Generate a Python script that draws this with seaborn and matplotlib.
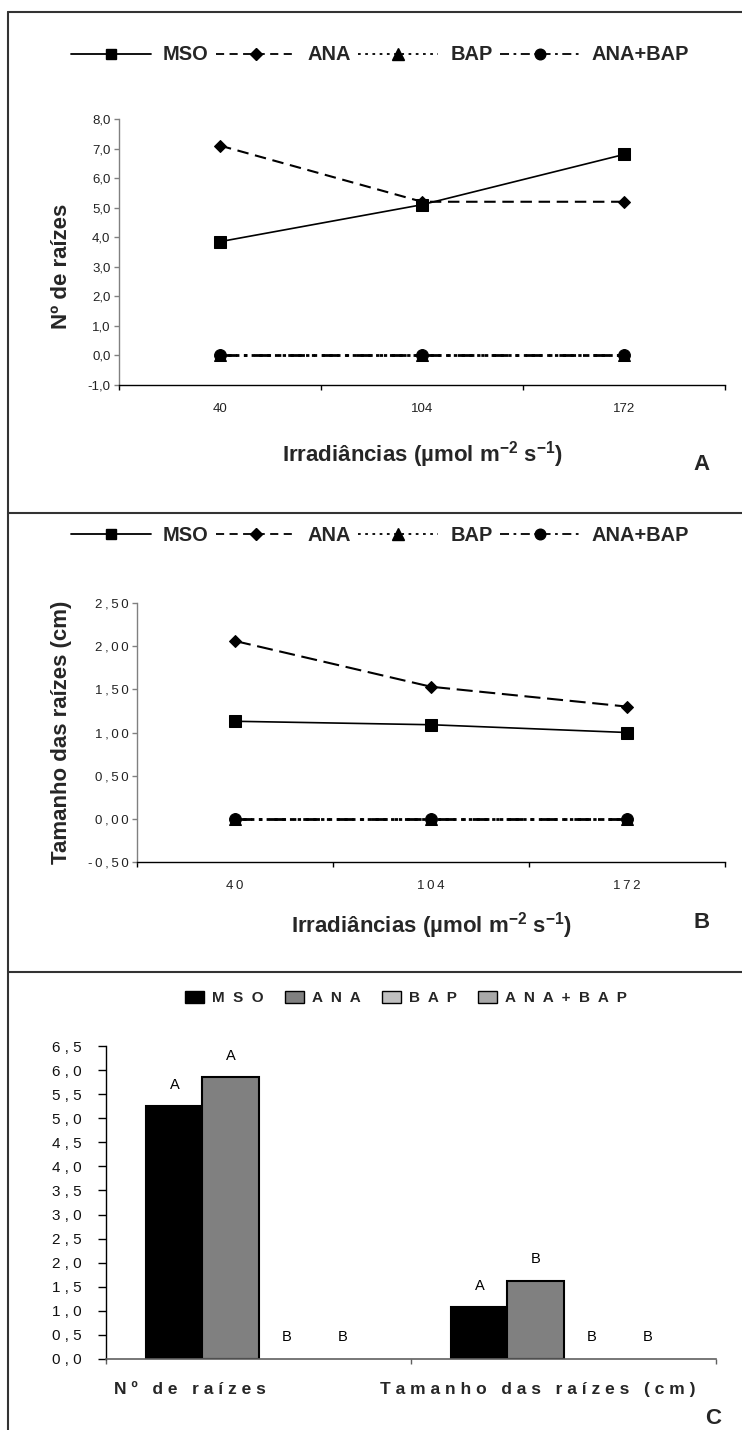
import matplotlib
matplotlib.use("Agg")
import matplotlib.pyplot as plt
from matplotlib.lines import Line2D
from matplotlib.patches import Patch
import seaborn as sns
import pandas as pd

# ---- data ----
irradiances = ["40", "104", "172"]
treatments = ["MSO", "ANA", "BAP", "ANA+BAP"]

roots_mso = [3.85, 5.1, 6.8]
roots_ana = [7.1, 5.2, 5.2]
roots_bap = [0.0, 0.0, 0.0]
roots_anabap = [0.0, 0.0, 0.0]

length_mso = [1.13, 1.09, 1.00]
length_ana = [2.06, 1.53, 1.30]
length_bap = [0.0, 0.0, 0.0]
length_anabap = [0.0, 0.0, 0.0]

bar_groups = ["Nº de raízes", "Tamanho das raízes (cm)"]
bar_mso = [5.25, 1.07]
bar_ana = [5.85, 1.63]
bar_bap = [0.0, 0.0]
bar_anabap = [0.0, 0.0]
letters_mso = ["A", "A"]
letters_ana = ["A", "B"]
letters_bap = ["B", "B"]
letters_anabap = ["B", "B"]

ticks_a = [-1, 0, 1, 2, 3, 4, 5, 6, 7, 8]
ticklabels_a = ["-1,0", "0,0", "1,0", "2,0", "3,0", "4,0", "5,0", "6,0", "7,0", "8,0"]
ticks_b = [-0.5, 0.0, 0.5, 1.0, 1.5, 2.0, 2.5]
ticklabels_b = ["-0,50", "0,00", "0,50", "1,00", "1,50", "2,00", "2,50"]
ticks_c = [0.0, 0.5, 1.0, 1.5, 2.0, 2.5, 3.0, 3.5, 4.0, 4.5, 5.0, 5.5, 6.0, 6.5]
ticklabels_c = ["0,0", "0,5", "1,0", "1,5", "2,0", "2,5", "3,0", "3,5",
                "4,0", "4,5", "5,0", "5,5", "6,0", "6,5"]

# ---- style ----
sns.set_style("white")
plt.rcParams["font.family"] = ["Liberation Sans", "DejaVu Sans"]
plt.rcParams["mathtext.fontset"] = "custom"
plt.rcParams["mathtext.rm"] = "Liberation Sans:bold"
plt.rcParams["mathtext.bf"] = "Liberation Sans:bold"
plt.rcParams["mathtext.default"] = "bf"

W, H = 742, 1430
fig = plt.figure(figsize=(W / 100, H / 100), dpi=100)

THIN = "\u2009"


def box(left, top, right, bottom):
    return [left / W, 1 - bottom / H, (right - left) / W, (bottom - top) / H]


def spaced(text, sep=" "):
    return sep.join(text)


series_style = {
    "MSO": dict(marker="s", markersize=8, linestyle="-", lw=1.2),
    "ANA": dict(marker="D", markersize=6.5, linestyle=(0, (5.5, 3.2)), lw=1.5),
    "BAP": dict(marker="^", markersize=9, linestyle=(0, (1.2, 1.6)), lw=2.0),
    "ANA+BAP": dict(marker="o", markersize=8.5, linestyle=(0, (6, 2.5, 1.2, 2.5)), lw=2.0),
}
legend_dash = {
    "MSO": "-",
    "ANA": (0, (4.5, 3.0)),
    "BAP": (0, (1.5, 2.5)),
    "ANA+BAP": (0, (5, 2.5, 1.5, 2.5)),
}

XLABEL = "Irradiâncias (µmol m$^{-2}$ s$^{-1}$)"


def line_panel(ax, series, ticks, ticklabels, ylim, ylabel, ylabel_x, ylabel_y, xlabel_y,
               xticklabels, dash_scale=1.0):
    for name, values in zip(treatments, series):
        st = series_style[name]
        ls = st["linestyle"]
        if name == "ANA":
            ls = (0, (ls[1][0] * dash_scale, ls[1][1]))
        sns.lineplot(x=irradiances, y=values, ax=ax, color="black",
                     marker=st["marker"], markersize=st["markersize"],
                     markeredgecolor="black", markerfacecolor="black",
                     linestyle=ls, linewidth=st["lw"], sort=False)
    ax.set_xlim(-0.5, 2.5)
    ax.set_ylim(*ylim)
    ax.set_yticks(ticks, ticklabels)
    ax.set_xticks(range(len(irradiances)), xticklabels)
    ax.set_xticks([-0.5, 0.5, 1.5, 2.5], minor=True)
    for s in ("top", "right"):
        ax.spines[s].set_visible(False)
    ax.spines["left"].set_color("#808080")
    ax.spines["left"].set_linewidth(1.0)
    ax.spines["bottom"].set_color("black")
    ax.spines["bottom"].set_linewidth(1.0)
    ax.tick_params(axis="y", which="major", direction="out", length=3.6, width=1,
                   color="#808080", pad=2.5, labelsize=9.5, labelcolor="#222222", left=True)
    ax.tick_params(axis="x", which="major", length=0, pad=13, labelsize=9.5,
                   labelcolor="#222222", bottom=True)
    ax.tick_params(axis="x", which="minor", direction="out", length=3.5, width=1,
                   color="black", bottom=True)
    ax.set_ylabel(ylabel, fontsize=16, fontweight="bold")
    ax.yaxis.set_label_coords(ylabel_x, ylabel_y)
    ax.set_xlabel(XLABEL, fontsize=16, fontweight="bold")
    ax.xaxis.set_label_coords(0.5, xlabel_y)
    ax.grid(False)


# ---- panel A ----
axA = fig.add_axes(box(119, 119, 725, 385))
line_panel(axA, [roots_mso, roots_ana, roots_bap, roots_anabap], ticks_a, ticklabels_a,
           (-1, 8), "Nº de raízes", -0.078, 0.447, -0.205, irradiances)

# ---- panel B ----
axB = fig.add_axes(box(137, 603, 725, 862))
line_panel(axB, [length_mso, length_ana, length_bap, length_anabap], ticks_b,
           [spaced(t, THIN) for t in ticklabels_b],
           (-0.5, 2.5), "Tamanho das raízes (cm)", -0.11, 0.5, -0.185,
           [spaced(t, THIN) for t in irradiances], dash_scale=1.4)

# legends for line panels
line_handles = [Line2D([], [], color="black", marker=series_style[n]["marker"],
                       markersize=series_style[n]["markersize"] * 0.9,
                       linestyle=legend_dash[n], linewidth=1.3)
                for n in treatments]
for ycen in (55, 535):
    fig.legend(line_handles, treatments, loc="center", bbox_to_anchor=(380 / W, 1 - ycen / H),
               ncol=4, frameon=False, numpoints=1, handlelength=4.0, handletextpad=0.6,
               columnspacing=0.35, prop=dict(size=14.4, weight="bold"))

# ---- panel C ----
axC = fig.add_axes(box(106, 1046, 716, 1359))
df = pd.DataFrame({
    "grupo": bar_groups * 4,
    "trat": [t for t in treatments for _ in bar_groups],
    "valor": bar_mso + bar_ana + bar_bap + bar_anabap,
})
bar_colors = ["black", "#808080", "#c0c0c0", "#a8a8a8"]
sns.barplot(data=df, x="grupo", y="valor", hue="trat", hue_order=treatments,
            order=bar_groups, palette=bar_colors, width=0.735, edgecolor="black",
            linewidth=1.5, saturation=1, ax=axC, legend=False, errorbar=None)
for patch in axC.patches:
    if patch.get_height() == 0:
        patch.set_linewidth(0)
for cont, labels in zip(axC.containers, [letters_mso, letters_ana, letters_bap, letters_anabap]):
    axC.bar_label(cont, labels=labels, padding=10.5, fontsize=10.5, color="black")

axC.set_xlim(-0.5, 1.5)
axC.set_ylim(0, 6.5)
axC.set_yticks(ticks_c, [spaced(t) for t in ticklabels_c])
axC.set_xticks([0, 1], ["", ""])
axC.set_xticks([-0.5, 0.5, 1.5], minor=True)
for s in ("top", "right"):
    axC.spines[s].set_visible(False)
axC.spines["left"].set_color("black")
axC.spines["bottom"].set_color("#606060")
axC.spines["left"].set_linewidth(1.0)
axC.spines["bottom"].set_linewidth(1.2)
axC.tick_params(axis="y", direction="out", length=5.8, width=1, color="black", pad=12,
                labelsize=11, labelcolor="#111111", left=True)
axC.tick_params(axis="x", which="major", length=0)
axC.tick_params(axis="x", which="minor", direction="out", length=3.5, width=1,
                color="#606060", bottom=True)
axC.set_xlabel("")
axC.set_ylabel("")
axC.grid(False)

group_label_x = [-0.225, 0.916]
for gx, lab in zip(group_label_x, bar_groups):
    axC.text(gx, -0.099, spaced(lab), transform=axC.get_xaxis_transform(),
             ha="center", va="center", fontsize=12.5, fontweight="bold")

bar_handles = [Patch(facecolor=c, edgecolor="black", linewidth=1.0) for c in bar_colors]
fig.legend(bar_handles, [spaced(t, "  ") for t in treatments], loc="center",
           bbox_to_anchor=(406 / W, 1 - 998 / H), ncol=4, frameon=False,
           handlelength=1.25, handleheight=0.85, handletextpad=0.5, columnspacing=1.4,
           prop=dict(size=11, weight="bold"))

# ---- panel letters ----
fig.text(702 / W, 1 - 465 / H, "A", ha="center", va="center", fontsize=16, fontweight="bold")
fig.text(702 / W, 1 - 923 / H, "B", ha="center", va="center", fontsize=16, fontweight="bold")
fig.text(713 / W, 1 - 1419 / H, "C", ha="center", va="center", fontsize=16, fontweight="bold")

# ---- frame lines between panels ----
frame_kw = dict(color="#333333", linewidth=1.5, transform=fig.transFigure)
fig.add_artist(Line2D([8 / W, 8 / W], [1 - 12 / H, 0], **frame_kw))
for yline in (12, 513, 972):
    fig.add_artist(Line2D([8 / W, 1], [1 - yline / H, 1 - yline / H], **frame_kw))

fig.savefig("out.png", dpi=100, facecolor="white")
